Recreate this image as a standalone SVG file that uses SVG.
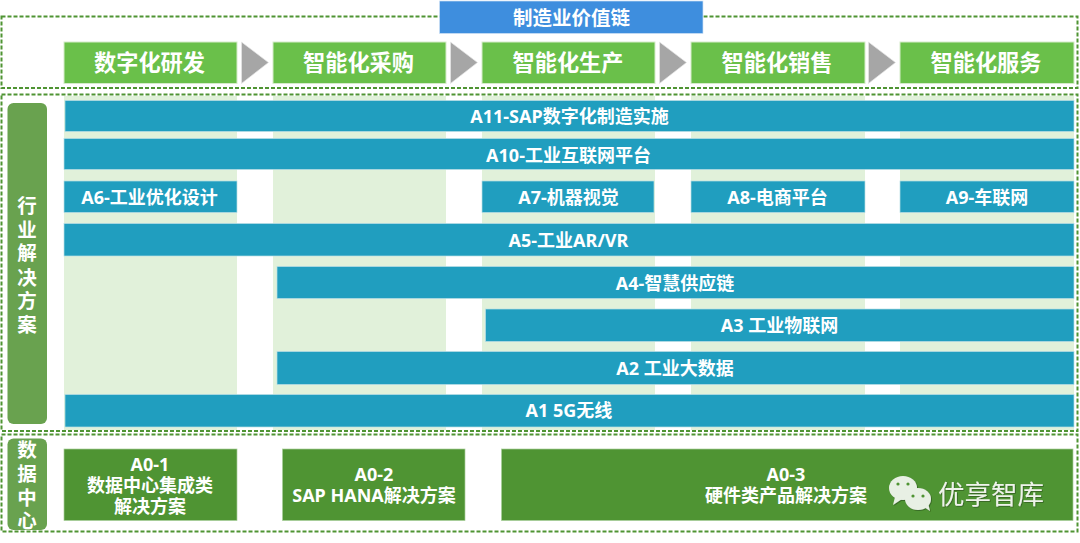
<svg xmlns="http://www.w3.org/2000/svg" width="1080" height="543" viewBox="0 0 1080 543">
<defs>
<filter id="sh" x="-10%" y="-10%" width="120%" height="130%"><feDropShadow dx="0.8" dy="0.8" stdDeviation="0.5" flood-color="#1f3d12" flood-opacity="0.6"/></filter>
</defs>
<style>
text{font-family:"Noto Sans","Noto Sans CJK SC",sans-serif;font-weight:700;fill:#fff;text-anchor:middle;dominant-baseline:central}
.dash{fill:none;stroke:#4f9433;stroke-width:2;stroke-dasharray:4 2}
.col{fill:#e1f1da}
.green{fill:#6ac04a;stroke:#d5ecca;stroke-width:1}
.bar{fill:#209ebf;stroke:#b9dfe6;stroke-width:.7}
.side{fill:#69a24f}
.dc{fill:#4f9433;stroke:#a9cf9a;stroke-width:.7}
.arrow{fill:#a6a6a6;stroke:#e6e6e6;stroke-width:.7}
.h{font-size:22.2px}
.b{font-size:18px}
.d{font-size:18px}
.s{font-size:19.5px}
.t{font-size:19.5px}
.wm{font-size:26.5px;font-weight:400;fill:#eef3ea}
.bub{fill:#e8f0e4}
</style>
<rect width="1080" height="543" fill="#fff"/>
<g id="frames">
<rect class="dash" x="1.500" y="16.500" width="1076" height="71.500"/>
<rect class="dash" x="1.500" y="94.500" width="1076" height="336.500"/>
<rect class="dash" x="1.500" y="434.500" width="1076" height="97"/>
</g>
<g id="columns">
<rect class="col" x="64" y="96" width="173" height="334"/>
<rect class="col" x="273" y="96" width="173" height="334"/>
<rect class="col" x="482" y="96" width="173" height="334"/>
<rect class="col" x="691" y="96" width="174" height="334"/>
<rect class="col" x="900" y="96" width="174" height="334"/>
</g>
<g id="title"><rect x="439.500" y="1" width="263.500" height="32.500" fill="#3e8ede" stroke="#cfe2f5" stroke-width=".7"/><text class="t" x="571.500" y="17">制造业价值链</text></g>
<g id="stage1"><rect class="green" x="64" y="42" width="173" height="41.500"/><text class="h" x="149.500" y="62.500">数字化研发</text></g>
<g id="stage2"><rect class="green" x="273" y="42" width="173" height="41.500"/><text class="h" x="358.500" y="62.500">智能化采购</text></g>
<g id="stage3"><rect class="green" x="482" y="42" width="173" height="41.500"/><text class="h" x="568" y="62.500">智能化生产</text></g>
<g id="stage4"><rect class="green" x="691" y="42" width="174" height="41.500"/><text class="h" x="777" y="62.500">智能化销售</text></g>
<g id="stage5"><rect class="green" x="900" y="42" width="174" height="41.500"/><text class="h" x="986" y="62.500">智能化服务</text></g>
<g id="connectors">
<polygon class="arrow" points="241.500,42 268.500,62.500 241.500,83.500"/>
<polygon class="arrow" points="450.500,42 477.500,62.500 450.500,83.500"/>
<polygon class="arrow" points="659.500,42 686.500,62.500 659.500,83.500"/>
<polygon class="arrow" points="868.500,42 895.500,62.500 868.500,83.500"/>
</g>
<g id="side-solutions"><rect class="side" x="7.500" y="103" width="39.500" height="321" rx="6"/>
<text class="s"><tspan x="27" y="205">行</tspan><tspan x="27" y="228.500">业</tspan><tspan x="27" y="252">解</tspan><tspan x="27" y="276.500">决</tspan><tspan x="27" y="300">方</tspan><tspan x="27" y="323.500">案</tspan></text></g>
<g id="side-dc"><rect class="side" x="7.500" y="438.500" width="39.500" height="91.500" rx="6"/>
<text class="s"><tspan x="27" y="448.500">数</tspan><tspan x="27" y="472.500">据</tspan><tspan x="27" y="496.500">中</tspan><tspan x="27" y="520">心</tspan></text></g>
<g id="A11"><rect class="bar" x="65" y="100.500" width="1009" height="31"/><text class="b" x="569.500" y="116">A11-SAP数字化制造实施</text></g>
<g id="A10"><rect class="bar" x="64" y="138.500" width="1010" height="31"/><text class="b" x="568.500" y="154.500">A10-工业互联网平台</text></g>
<g id="A6"><rect class="bar" x="64" y="181" width="173" height="31.500"/><text class="b" x="149.500" y="197">A6-工业优化设计</text></g>
<g id="A7"><rect class="bar" x="482" y="181" width="172" height="31.500"/><text class="b" x="568.500" y="197">A7-机器视觉</text></g>
<g id="A8"><rect class="bar" x="691" y="181" width="174" height="31.500"/><text class="b" x="777.500" y="197">A8-电商平台</text></g>
<g id="A9"><rect class="bar" x="900" y="181" width="174" height="31.500"/><text class="b" x="987" y="197">A9-车联网</text></g>
<g id="A5"><rect class="bar" x="64" y="223.500" width="1010" height="32.500"/><text class="b" x="568.500" y="240">A5-工业AR/VR</text></g>
<g id="A4"><rect class="bar" x="277" y="266.500" width="797" height="32"/><text class="b" x="675" y="283">A4-智慧供应链</text></g>
<g id="A3"><rect class="bar" x="485.500" y="309" width="588.500" height="32.500"/><text class="b" x="779.500" y="325">A3 工业物联网</text></g>
<g id="A2"><rect class="bar" x="277" y="351.500" width="797" height="33"/><text class="b" x="675" y="368">A2 工业大数据</text></g>
<g id="A1"><rect class="bar" x="65" y="394.500" width="1009" height="32.500"/><text class="b" x="569" y="410">A1 5G无线</text></g>
<g id="A0-1"><rect class="dc" x="64" y="449" width="173" height="71.500"/><text class="d"><tspan x="150" y="464">A0-1</tspan><tspan x="150" y="485">数据中心集成类</tspan><tspan x="150" y="506">解决方案</tspan></text></g>
<g id="A0-2"><rect class="dc" x="282.500" y="449" width="182.500" height="71.500"/><text class="d"><tspan x="374" y="474">A0-2</tspan><tspan x="374" y="495">SAP HANA解决方案</tspan></text></g>
<g id="A0-3"><rect class="dc" x="501.500" y="449" width="571.500" height="71.500"/><text class="d"><tspan x="786" y="474">A0-3</tspan><tspan x="786" y="495">硬件类产品解决方案</tspan></text></g>
<g id="watermark" filter="url(#sh)">
<ellipse class="bub" cx="903" cy="488" rx="14" ry="12"/><polygon class="bub" points="895,497 893,505 902,499"/>
<ellipse class="bub" cx="918" cy="499" rx="13" ry="11"/><polygon class="bub" points="924,507 930,511 928,503"/>
<circle cx="898" cy="484" r="1.600" fill="#4f9433"/><circle cx="908" cy="484" r="1.600" fill="#4f9433"/>
<circle cx="913" cy="496" r="1.600" fill="#4f9433"/><circle cx="923" cy="496" r="1.600" fill="#4f9433"/>
<text class="wm" x="991" y="494">优享智库</text>
</g>
</svg>
